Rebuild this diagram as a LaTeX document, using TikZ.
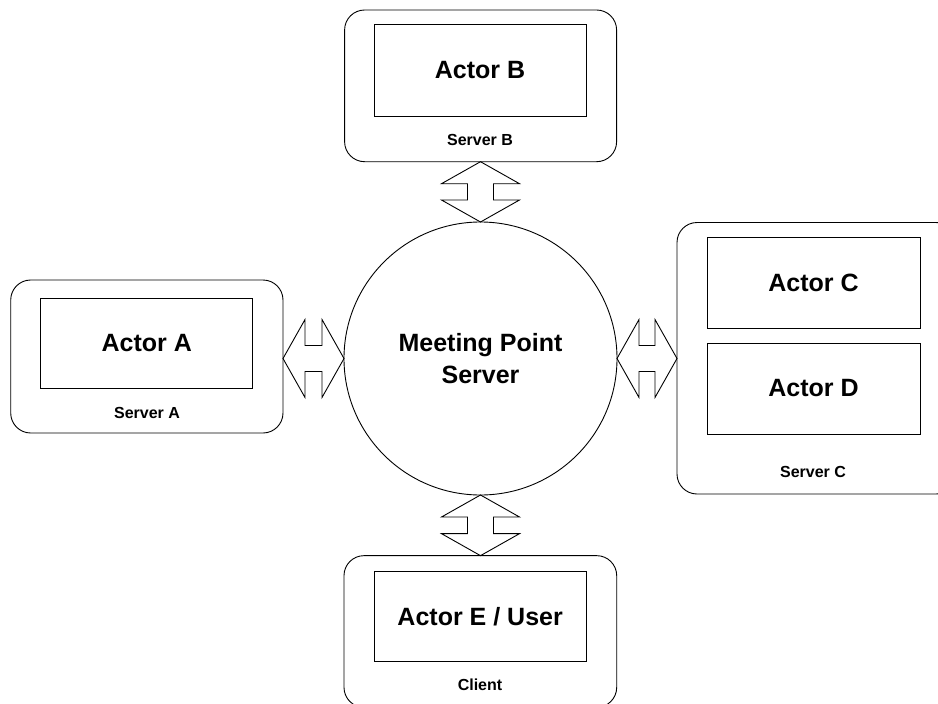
\documentclass[tikz,border=0pt]{standalone}
\usepackage{fontspec}
\setmainfont{Liberation Sans}
\usetikzlibrary{calc}

\tikzset{
  host/.style={draw, line width=0.9pt, rounded corners=20pt, inner sep=0pt, outer sep=0pt},
  actor/.style={draw, line width=0.9pt, inner sep=0pt, outer sep=0pt,
    font=\bfseries\fontsize{25}{30}\selectfont},
  hostlabel/.style={inner sep=0pt, font=\bfseries\fontsize{16}{19}\selectfont},
  hub/.style={draw, circle, line width=0.9pt, minimum size=273pt, inner sep=0pt, outer sep=0pt,
    align=center, font=\bfseries\fontsize{25}{32}\selectfont},
  exch/.style={draw, line width=0.9pt, line join=miter}
}

% two-headed exchange arrow between two named points
\newcommand\exchange[2]{%
  \coordinate (h1) at ($(#1)!22pt!(#2)$);
  \coordinate (h2) at ($(#2)!22pt!(#1)$);
  \draw[exch] (#1)
    -- ($(h1)!39pt!90:(#2)$) -- ($(h1)!13pt!90:(#2)$)
    -- ($(h2)!13pt!-90:(#1)$) -- ($(h2)!39pt!-90:(#1)$)
    -- (#2)
    -- ($(h2)!39pt!90:(#1)$) -- ($(h2)!13pt!90:(#1)$)
    -- ($(h1)!13pt!-90:(#2)$) -- ($(h1)!39pt!-90:(#2)$)
    -- cycle;
}

\begin{document}
\begin{tikzpicture}[x=1pt, y=-1pt]
  \useasboundingbox (0,0) rectangle (938,704);

  % central server
  \node[hub] (mp) at (480.5,358.5) {Meeting Point\\Server};

  % Server B
  \node[host, minimum width=272pt, minimum height=151.7pt] (sb) at (480.6,85.85) {};
  \node[actor, minimum width=212pt, minimum height=91.5pt] (ab) at (480,70.25) {Actor B};
  \node[hostlabel] (lb) at (480,140) {Server B};

  % Server A
  \node[host, minimum width=272.3pt, minimum height=153pt] (sa) at (146.85,356.5) {};
  \node[actor, minimum width=212pt, minimum height=90pt] (aa) at (146.7,343) {Actor A};
  \node[hostlabel] (la) at (147,413) {Server A};

  % Server C
  \node[host, minimum width=279pt, minimum height=271.5pt] (sc) at (816.5,358.25) {};
  \node[actor, minimum width=213pt, minimum height=91pt] (ac) at (813.5,282.5) {Actor C};
  \node[actor, minimum width=213pt, minimum height=91pt] (ad) at (813.5,388.5) {Actor D};
  \node[hostlabel] (lc) at (813,472) {Server C};

  % Client
  \node[host, minimum width=272.7pt, minimum height=151.7pt] (cl) at (480.35,631.5) {};
  \node[actor, minimum width=211.7pt, minimum height=90.7pt] (ae) at (480.15,616.35) {Actor E / User};
  \node[hostlabel] (le) at (480,685) {Client};

  % exchange arrows
  \coordinate (sbp) at (sb.south -| mp.north);
  \coordinate (sap) at (sa.east |- mp.west);
  \coordinate (scp) at (sc.west |- mp.east);
  \coordinate (clp) at (cl.north -| mp.south);
  \exchange{sbp}{mp.north}
  \exchange{sap}{mp.west}
  \exchange{mp.east}{scp}
  \exchange{mp.south}{clp}
\end{tikzpicture}
\end{document}
